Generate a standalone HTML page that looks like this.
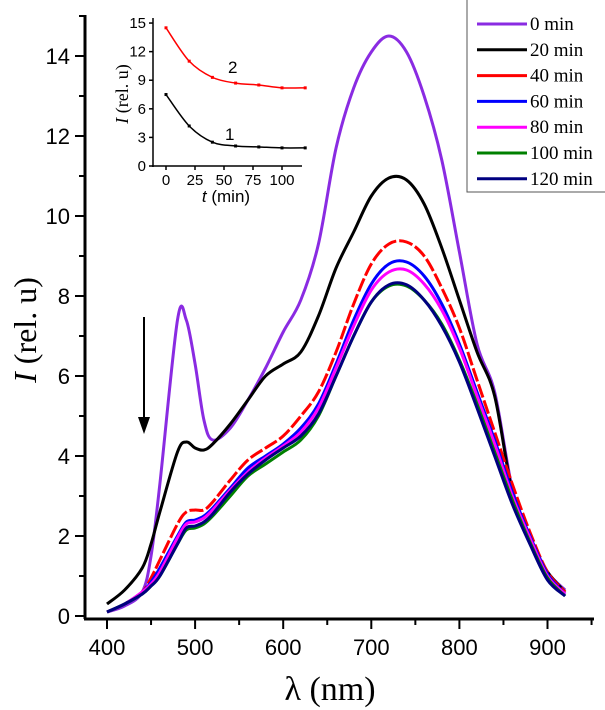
<!DOCTYPE html>
<html><head><meta charset="utf-8"><style>
body{margin:0;background:#fff}
svg{display:block}
.tk{font-family:"Liberation Sans",Arial,sans-serif;font-size:22px;fill:#000}
.itk{font-family:"Liberation Sans",Arial,sans-serif;font-size:15px;fill:#000}
.lg{font-family:"Liberation Serif",serif;font-size:19px;fill:#000}
</style></head><body>
<svg id="chart" width="605" height="710" viewBox="0 0 605 710" xmlns="http://www.w3.org/2000/svg"></svg>
<script>
const wavelengths=[400,420,440,450,460,480,490,500,510,520,540,560,580,600,620,640,660,680,700,720,740,760,780,800,820,840,860,880,900,920];
const seriesLabels=["0 min","20 min","40 min","60 min","80 min","100 min","120 min"];
const seriesColors=["#8a2be2","#000000","#ff0000","#0000ff","#ff00ff","#008000","#000080"];
const s0=[0.1,0.25,0.6,1.5,3.3,7.4,7.4,6.3,4.9,4.4,4.7,5.4,6.2,7.1,7.9,9.3,11.7,13.2,14.1,14.5,14.1,13.0,11.4,9.1,6.8,5.6,3.2,2.0,1.1,0.65];
const s20=[0.3,0.65,1.2,1.8,2.6,4.1,4.35,4.2,4.15,4.3,4.8,5.4,6.0,6.3,6.6,7.5,8.7,9.6,10.5,10.95,10.9,10.3,9.2,7.9,6.6,5.5,3.1,1.9,1.1,0.6];
const s40=[0.1,0.3,0.6,0.95,1.4,2.3,2.6,2.65,2.65,2.85,3.4,3.9,4.2,4.5,5.0,5.6,6.6,7.8,8.8,9.3,9.35,9.0,8.2,7.2,5.9,4.6,3.3,2.1,1.1,0.6];
const s60=[0.1,0.3,0.6,0.85,1.2,2.0,2.35,2.4,2.5,2.7,3.2,3.7,4.0,4.3,4.7,5.3,6.3,7.4,8.3,8.8,8.85,8.5,7.8,6.8,5.6,4.4,3.1,2.0,1.05,0.55];
const s80=[0.1,0.3,0.6,0.8,1.1,1.95,2.3,2.35,2.45,2.65,3.15,3.6,3.95,4.25,4.6,5.2,6.2,7.25,8.15,8.6,8.65,8.3,7.65,6.7,5.5,4.3,3.0,1.95,1.0,0.55];
const s100=[0.1,0.3,0.55,0.75,1.0,1.8,2.15,2.2,2.3,2.5,3.0,3.5,3.8,4.1,4.4,5.0,6.0,7.0,7.85,8.25,8.25,7.9,7.3,6.4,5.3,4.1,2.9,1.85,0.95,0.5];
const s120=[0.1,0.3,0.55,0.75,1.0,1.8,2.2,2.25,2.35,2.55,3.1,3.55,3.9,4.2,4.5,5.05,6.0,7.0,7.85,8.28,8.28,7.9,7.25,6.35,5.2,4.0,2.8,1.8,0.9,0.5];
const xTicks=[400,500,600,700,800,900];
const yTicks=[0,2,4,6,8,10,12,14];
const insetTimes=[0,20,40,60,80,100,120];
const inset1=[7.5,4.2,2.5,2.1,2.0,1.9,1.9];
const inset2=[14.5,11.0,9.3,8.7,8.5,8.2,8.2];
const insetXTicks=[0,25,50,75,100];
const insetYTicks=[0,3,6,9,12,15];

const NS="http://www.w3.org/2000/svg";
const svg=document.getElementById('chart');
function mk(tag,attrs,parent){const e=document.createElementNS(NS,tag);for(const k in attrs)e.setAttribute(k,attrs[k]);(parent||svg).appendChild(e);return e;}
const X=v=>107+(v-400)*0.881;
const Y=v=>616-v*40;
const IX=t=>166+t*1.16;
const IY=v=>166-v*9.53;
function smooth(pts){let d="M"+pts[0][0]+","+pts[0][1];for(let i=0;i<pts.length-1;i++){const p0=pts[i-1]||pts[i],p1=pts[i],p2=pts[i+1],p3=pts[i+2]||p2;const c1=[p1[0]+(p2[0]-p0[0])/6,p1[1]+(p2[1]-p0[1])/6],c2=[p2[0]-(p3[0]-p1[0])/6,p2[1]-(p3[1]-p1[1])/6];d+=" C"+c1+" "+c2+" "+p2;}return d;}

let a=mk('line',{x1:85,y1:15,x2:85,y2:619,stroke:'#000','stroke-width':3});


a=mk('line',{x1:84,y1:619,x2:594,y2:619,stroke:'#000','stroke-width':3});


for(let v=0;v<=15;v++){const l=mk('line',{x1:v%2?79:75,y1:Y(v),x2:85,y2:Y(v),stroke:'#000','stroke-width':2});

}
yTicks.forEach(v=>{const t=mk('text',{x:70,y:Y(v)+8,'text-anchor':'end',class:'tk'});t.textContent=v;

});
for(let v=400;v<=950;v+=50){const l=mk('line',{x1:X(v),y1:619,x2:X(v),y2:v%100?625:629,stroke:'#000','stroke-width':2});

}
xTicks.forEach(v=>{const t=mk('text',{x:X(v),y:655,'text-anchor':'middle',class:'tk'});t.textContent=v;

});
let tt=mk('text',{x:330,y:700,'text-anchor':'middle','font-family':'Liberation Serif,serif','font-size':34});
tt.textContent='λ (nm)';


tt=mk('text',{x:0,y:0,'text-anchor':'middle','font-family':'Liberation Serif,serif','font-size':32,transform:'translate(36,330) rotate(-90)'});
tt.innerHTML='<tspan font-style="italic">I</tspan> (rel. u)';



const allSeries=[s0,s20,s40,s60,s80,s100,s120];
allSeries.forEach((s,i)=>{const p=mk('path',{d:smooth(s.map((v,j)=>[X(wavelengths[j]),Y(v)])),fill:'none',stroke:seriesColors[i],'stroke-width':3,'stroke-linejoin':'round'});
if(i===2)p.setAttribute('stroke-dasharray','14 3');

});

let ar=mk('g',{});


mk('line',{x1:144,y1:317,x2:144,y2:420,stroke:'#000','stroke-width':2},ar);
mk('polygon',{points:'138,417 150,417 144,434',fill:'#000'},ar);

const lg=mk('g',{});


mk('rect',{x:467,y:-2,width:140,height:194,fill:'#fff',stroke:'#555','stroke-width':1},lg);
seriesLabels.forEach((lab,i)=>{const y=24+i*25.8;const l=mk('line',{x1:477,y1:y,x2:527,y2:y,stroke:seriesColors[i],'stroke-width':3},lg);


const t=mk('text',{x:530,y:y+6,class:'lg'},lg);t.textContent=lab;

});

const ig=mk('g',{});


mk('line',{x1:153,y1:18,x2:153,y2:167,stroke:'#000','stroke-width':1.5},ig);
mk('line',{x1:152,y1:166,x2:302,y2:166,stroke:'#000','stroke-width':1.5},ig);
insetYTicks.forEach(v=>{mk('line',{x1:149,y1:IY(v),x2:153,y2:IY(v),stroke:'#000','stroke-width':1.5},ig);
const t=mk('text',{x:146,y:IY(v)+5,'text-anchor':'end',class:'itk'},ig);t.textContent=v;

});
insetXTicks.forEach(v=>{mk('line',{x1:IX(v),y1:166,x2:IX(v),y2:170,stroke:'#000','stroke-width':1.5},ig);
const t=mk('text',{x:IX(v),y:185,'text-anchor':'middle',class:'itk'},ig);t.textContent=v;

});
[[inset2,'#ff0000'],[inset1,'#000000']].forEach(([s,c],k)=>{const p=mk('path',{d:smooth(s.map((v,j)=>[IX(insetTimes[j]),IY(v)])),fill:'none',stroke:c,'stroke-width':1.5},ig);


s.forEach((v,j)=>{const m=mk('rect',{x:IX(insetTimes[j])-1.5,y:IY(v)-1.5,width:3,height:3,fill:c},ig);

});});
let il=mk('text',{x:228,y:73,'font-family':'Liberation Sans,sans-serif','font-size':17},ig);il.textContent='2';


il=mk('text',{x:225,y:140,'font-family':'Liberation Sans,sans-serif','font-size':17},ig);il.textContent='1';


il=mk('text',{x:226,y:202,'text-anchor':'middle','font-family':'Liberation Sans,sans-serif','font-size':17},ig);il.innerHTML='<tspan font-style="italic">t</tspan> (min)';


il=mk('text',{x:0,y:0,'text-anchor':'middle','font-family':'Liberation Serif,serif','font-size':18,transform:'translate(128,94) rotate(-90)'},ig);il.innerHTML='<tspan font-style="italic">I</tspan> (rel. u)';


</script>
</body></html>
